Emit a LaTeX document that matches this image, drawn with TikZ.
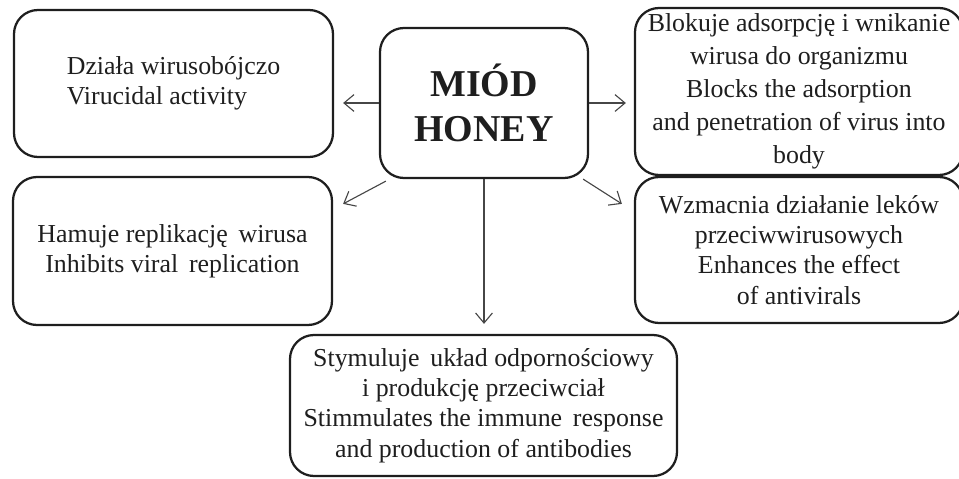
\documentclass[tikz,border=0pt]{standalone}
\usepackage{fontspec}
\setmainfont{Liberation Serif}
\usepackage{tikz}
\usetikzlibrary{positioning,arrows.meta,calc}
\definecolor{inkgray}{RGB}{30,30,30}
\definecolor{arrowgray}{RGB}{70,70,70}

\begin{document}
\begin{tikzpicture}[
  effectbox/.style={rectangle,rounded corners=0.6cm,draw=inkgray,line width=1.6pt,
    text=inkgray,align=center,inner sep=2pt,
    font=\fontsize{18.4}{21.5}\selectfont},
  honeybox/.style={effectbox,font=\fontsize{27}{32}\selectfont\bfseries},
  arr/.style={-{Straight Barb[length=0.25cm,width=0.42cm]},arrowgray,line width=0.8pt}]
\useasboundingbox (0,0) rectangle (23.975,-11.975);
% Central node
\node[honeybox,minimum width=5.2cm,minimum height=3.75cm] (mid) at (12.1,-2.575)
  {MIÓD\\HONEY};
% Effects of honey
\node[effectbox,align=left,minimum width=7.975cm,minimum height=3.675cm] (tl)
  at (4.3375,-2.0875) {Działa wirusobójczo\\Virucidal activity};
\node[effectbox,minimum width=7.975cm,minimum height=3.7cm] (ml)
  at (4.3125,-6.275) {Hamuje replikację\, wirusa\\Inhibits viral\, replication};
\node[effectbox,font=\fontsize{18.4}{23.4}\selectfont,minimum width=8.2cm,
  minimum height=4.175cm,inner sep=0pt] (tr) at (19.975,-2.2875)
  {Blokuje adsorpcję i wnikanie\\wirusa do organizmu\\Blocks the adsorption\\
   and penetration of virus into\\body};
\node[effectbox,minimum width=8.2cm,minimum height=3.65cm] (mr)
  at (19.975,-6.25) {Wzmacnia działanie leków\\przeciwwirusowych\\
   Enhances the effect\\of antivirals};
\node[effectbox,minimum width=9.675cm,minimum height=3.525cm] (bot)
  at (12.0875,-10.1375) {Stymuluje\, układ odpornościowy\\i produkcję przeciwciał\\
   Stimmulates the immune\, response\\and production of antibodies};
% Arrows
\draw[arr,shorten >=0.225cm] (mid.west) -- (mid.west -| tl.east);
\draw[arr,shorten >=0.2cm] (mid.east) -- (mid.east -| tr.west);
\draw[arr,shorten >=0.25cm] (mid.south) -- (mid.south |- bot.north);
\draw[arr] ([shift={(0.175,-0.05)}]mid.south west) -- ([shift={(0.25,-0.7)}]ml.north east);
\draw[arr] ([shift={(-0.15,0)}]mid.south east) -- ([shift={(-0.3,-0.7)}]mr.north west);
\end{tikzpicture}
\end{document}
